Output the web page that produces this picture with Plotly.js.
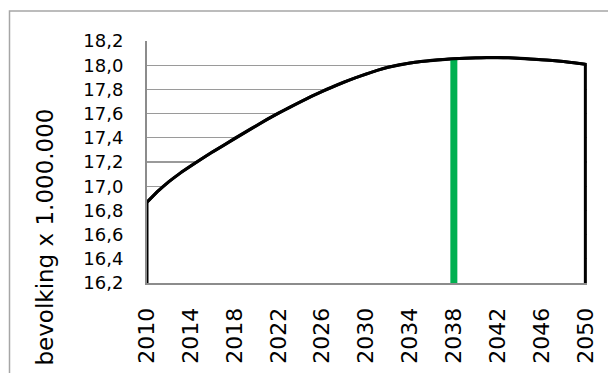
<!DOCTYPE html>
<html>
<head>
<meta charset="utf-8">
<script src="https://cdn.plot.ly/plotly-3.0.1.min.js"></script>
<style>html,body{margin:0;padding:0;background:#fff;}#chart{width:608px;height:373px;}</style>
</head>
<body>
<div id="chart"></div>
<script>
// Data (population in millions)
const years = [2010,2011,2012,2013,2014,2015,2016,2017,2018,2019,
               2020,2021,2022,2023,2024,2025,2026,2027,2028,2029,
               2030,2031,2032,2033,2034,2035,2036,2037,2038,2039,
               2040,2041,2042,2043,2044,2045,2046,2047,2048,2049,2050];
const population = [16.868,16.960,17.038,17.106,17.168,17.227,17.284,17.339,17.395,17.449,
                    17.502,17.554,17.604,17.652,17.698,17.742,17.784,17.824,17.861,17.895,
                    17.927,17.957,17.983,18.003,18.018,18.030,18.040,18.048,18.054,18.058,
                    18.061,18.063,18.063,18.061,18.057,18.052,18.046,18.039,18.030,18.020,18.008];
const markerYear = 2038;
const yRange = [16.2, 18.2];
const xTickVals = [2010,2014,2018,2022,2026,2030,2034,2038,2042,2046,2050];
const yTickVals = [16.2,16.4,16.6,16.8,17.0,17.2,17.4,17.6,17.8,18.0,18.2];
const yTitle = "bevolking x 1.000.000";

const base = yRange[0];
const areaX = [years[0]].concat(years, [years[years.length-1]]);
const areaY = [base].concat(population, [base]);
const mIdx = years.indexOf(markerYear);

const traces = [
  {x: areaX, y: areaY, type: 'scatter', mode: 'lines', fill: 'toself', fillcolor: '#ffffff',
   line: {color: '#000000', width: 3}, hoverinfo: 'skip'},
  {x: [markerYear, markerYear], y: [base, population[mIdx]], type: 'scatter', mode: 'lines',
   line: {color: '#00B050', width: 7}, hoverinfo: 'skip'},
  {x: years, y: population, type: 'scatter', mode: 'lines',
   line: {color: '#000000', width: 3, shape: 'spline', smoothing: 0.6}, hoverinfo: 'skip'}
];

const layout = {
  width: 608, height: 373,
  margin: {l: 147, r: 21, t: 41, b: 90, pad: 0},
  paper_bgcolor: '#ffffff', plot_bgcolor: '#ffffff',
  showlegend: false,
  separators: ',.',
  font: {family: 'DejaVu Sans', color: '#000000'},
  xaxis: {
    range: [years[0], years[years.length-1] + 0.15],
    tickmode: 'array', tickvals: xTickVals, ticktext: xTickVals.map(String),
    tickangle: -90, tickfont: {size: 22, family: 'DejaVu Sans', color: '#000'},
    ticks: '', showgrid: false, zeroline: false,
    showline: true, linecolor: '#8c8c8c', linewidth: 2,
    ticklabelstandoff: 14
  },
  yaxis: {
    range: yRange,
    tickmode: 'array', tickvals: yTickVals, ticktext: yTickVals.map(v => v.toFixed(1).replace('.', ',')),
    tickfont: {size: 18, family: 'DejaVu Sans', color: '#000'},
    ticks: '', showgrid: true, gridcolor: '#9a9a9a', gridwidth: 1.3,
    zeroline: false, showline: true, linecolor: '#8c8c8c', linewidth: 2,
    ticklabelstandoff: 18
  },
  shapes: [
    {type: 'rect', xref: 'paper', yref: 'paper',
     x0: (9.5 - 147) / 440, x1: (640 - 147) / 440,
     y0: (283 - 400) / 242, y1: (283 - 11) / 242,
     line: {color: '#a6a6a6', width: 1.5}, fillcolor: 'rgba(0,0,0,0)', layer: 'below'}
  ],
  annotations: [
    {text: yTitle, xref: 'paper', yref: 'paper', x: (44 - 147) / 440, y: (283 - 107) / 242,
     xanchor: 'center', yanchor: 'top', textangle: -90, showarrow: false,
     font: {size: 23, family: 'DejaVu Sans', color: '#000'}}
  ]
};

Plotly.newPlot('chart', traces, layout, {displayModeBar: false, staticPlot: true});
</script>
</body>
</html>
